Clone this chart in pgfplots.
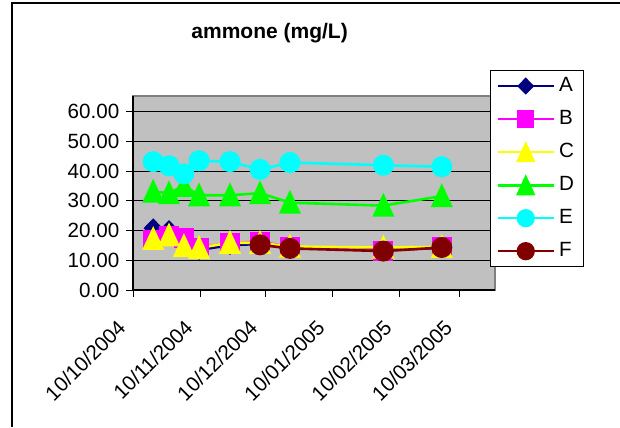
\documentclass[border=0pt]{standalone}
\usepackage{fontspec}
\setmainfont{Liberation Sans}
\usepackage{pgfplots}
\pgfplotsset{compat=1.18}
\definecolor{silver}{HTML}{C0C0C0}
\definecolor{frame}{HTML}{808080}
\definecolor{navyA}{HTML}{000080}
\definecolor{magB}{HTML}{FF00FF}
\definecolor{yelC}{HTML}{FFFF00}
\definecolor{grnD}{HTML}{00FF00}
\definecolor{cyaE}{HTML}{00FFFF}
\definecolor{brnF}{HTML}{800000}
\begin{document}
\begin{tikzpicture}
\begin{axis}[
  scale only axis, width=180.85pt, height=97pt,
  xmin=0, xmax=167.2, ymin=0, ymax=65.3,
  axis background/.style={fill=silver},
  axis line style={draw=frame, line width=1pt},
  font=\fontsize{10.3}{12}\selectfont,
  /pgf/number format/assume math mode=true,
  ytick={0,10,20,30,40,50,60},
  yticklabel style={/pgf/number format/fixed, /pgf/number format/fixed zerofill, /pgf/number format/precision=2},
  ymajorgrids, grid style={black, line width=0.5pt},
  xtick={0,31,61,92,123,151},
  xticklabels={10/10/2004,10/11/2004,10/12/2004,10/01/2005,10/02/2005,10/03/2005},
  xticklabel style={xshift=-8.5pt, yshift=-10.5pt, rotate=45, anchor=north east, inner sep=0pt},
  tick align=outside, major tick length=3.5pt,
  tick style={black, line width=0.5pt},
  xtick pos=left, ytick pos=left,
  title={ammone (mg/L)},
  title style={at={(0.377,1.263)}, anchor=center, font=\bfseries\fontsize{10.5}{12}\selectfont},
  legend style={at={(0.986,1.134)}, anchor=north west, draw=black, fill=white, line width=0.5pt,
    font=\fontsize{10.3}{12}\selectfont, row sep=3.9pt, inner xsep=3pt, inner ysep=1.5pt},
  legend cell align=left,
  legend image code/.code={\draw[mark repeat=2,mark phase=2, every mark/.append style={scale=0.85}] plot coordinates {(0pt,0pt)(14pt,0pt)(28pt,0pt)};},
  every axis plot/.append style={line width=1.3pt},
]
\addplot[navyA, mark=diamond*, mark size=4pt, mark options={solid, fill=navyA, draw=navyA, xscale=1.3}]
 coordinates {(9.2,20.8)(16.5,20.2)(23.4,17.0)(30.4,13.5)(44.7,15.1)(58.6,15.5)(72.4,14.5)(115.6,13.5)(142.6,14.2)};
\addlegendentry{A}
\addplot[magB, mark=square*, mark size=4.3pt, mark options={solid, fill=magB, draw=magB}]
 coordinates {(9.2,16.9)(16.5,18.1)(23.4,17.5)(30.4,14.3)(44.7,15.8)(58.6,16.3)(72.4,14.4)(115.6,13.2)(142.6,14.4)};
\addlegendentry{B}
\addplot[yelC, mark=triangle*, mark size=5.2pt, mark options={solid, fill=yelC, draw=yelC, yshift=-1.625pt, yscale=1.25}]
 coordinates {(9.2,17.2)(16.5,18.4)(23.4,14.8)(30.4,14.2)(44.7,15.9)(58.6,15.9)(72.4,14.6)(115.6,14.3)(142.6,14.5)};
\addlegendentry{C}
\addplot[grnD, mark=triangle*, mark size=5.2pt, mark options={solid, fill=grnD, draw=grnD, yshift=-1.625pt, yscale=1.25}]
 coordinates {(9.2,33.1)(16.5,32.6)(23.4,35.0)(30.4,31.9)(44.7,31.9)(58.6,32.6)(72.4,29.4)(115.6,28.4)(142.6,31.6)};
\addlegendentry{D}
\addplot[cyaE, mark=*, mark size=4.6pt, mark options={solid, fill=cyaE, draw=cyaE}]
 coordinates {(9.2,43.2)(16.5,41.8)(23.4,39.1)(30.4,43.5)(44.7,43.2)(58.6,40.6)(72.4,42.9)(115.6,42.0)(142.6,41.5)};
\addlegendentry{E}
\addplot[brnF, mark=*, mark size=4.6pt, mark options={solid, fill=brnF, draw=brnF}]
 coordinates {(58.6,15.2)(72.4,14.0)(115.6,13.1)(142.6,14.3)};
\addlegendentry{F}
\coordinate (bbsw) at (rel axis cs:-0.3685,-0.7062);
\coordinate (bbne) at (rel axis cs:1.3456,1.4948);
\coordinate (bl) at (rel axis cs:-0.3354,-0.7062);
\coordinate (tl) at (rel axis cs:-0.3354,1.4794);
\coordinate (tr) at (rel axis cs:1.3456,1.4794);
\coordinate (o0) at (rel axis cs:0,0);
\coordinate (o1) at (rel axis cs:0,1);
\coordinate (o2) at (rel axis cs:1,0);
\end{axis}
\draw[black, line width=0.8pt] (o1) -- (o0) -- (o2);
\pgfresetboundingbox
\useasboundingbox (bbsw) rectangle (bbne);
\draw[black, line width=0.6pt] (bl) -- (tl) -- (tr);
\end{tikzpicture}
\end{document}
